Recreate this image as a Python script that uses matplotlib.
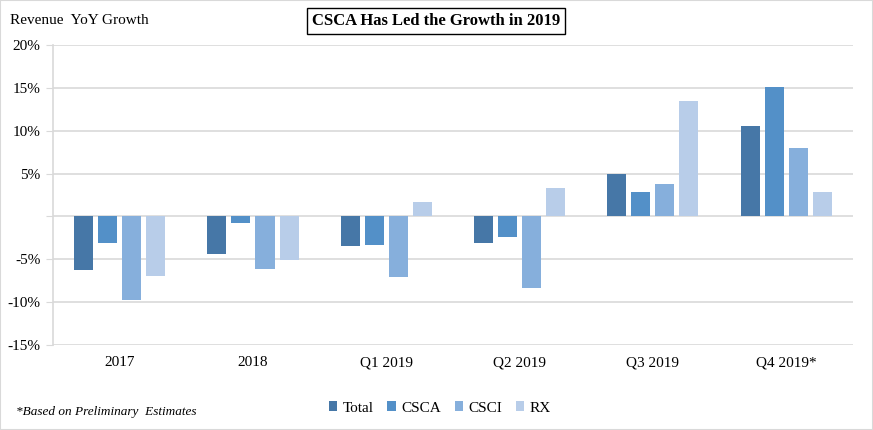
import numpy as np
import matplotlib.pyplot as plt
from matplotlib.patches import Rectangle

# data (YoY revenue growth, %)
periods = ['2017', '2018', 'Q1 2019', 'Q2 2019', 'Q3 2019', 'Q4 2019*']
series = ['Total', 'CSCA', 'CSCI', 'RX']
total = [-6.3, -4.4, -3.4, -3.1, 5.0, 10.5]
csca = [-3.1, -0.75, -3.3, -2.4, 2.8, 15.05]
csci = [-9.7, -6.1, -7.1, -8.4, 3.8, 8.0]
rx = [-6.9, -5.1, 1.7, 3.3, 13.5, 2.8]
yticks = [-15, -10, -5, 0, 5, 10, 15, 20]

colors = ['#4677a7', '#5390c8', '#86afdc', '#b8cde9']

plt.rcParams['font.family'] = ['Liberation Serif', 'DejaVu Serif']

fig = plt.figure(figsize=(8.73, 4.30), dpi=100)
ax = fig.add_axes([53 / 873, 85 / 430, 800 / 873, 300 / 430])

x = np.arange(len(periods))
step = 0.18
width = 0.1425
for i, (name, vals) in enumerate(zip(series, [total, csca, csci, rx])):
    ax.bar(x + (i - 1.5) * step, vals, width, color=colors[i], label=name, zorder=3)

ax.set_xlim(-0.5, len(periods) - 0.5)
ax.set_ylim(-15, 20)
ax.set_yticks(yticks)
ax.set_yticklabels(['' if t == 0 else f'{t}%' for t in yticks], fontsize=11)
ax.set_xticks(x)
ax.set_xticklabels(periods, fontsize=11)
ax.grid(axis='y', color='#d9d9d9', linewidth=1.2, zorder=0)
for s in ['top', 'right', 'bottom']:
    ax.spines[s].set_visible(False)
ax.spines['left'].set_color('#d9d9d9')
ax.spines['left'].set_linewidth(1.2)
ax.tick_params(axis='y', length=5, color='#d9d9d9', pad=4)
ax.tick_params(axis='x', length=0, pad=8)

fig.text(10 / 873, 1 - 20 / 430, 'Revenue  YoY Growth', fontsize=11, va='center', ha='left')
fig.text(436 / 873, 1 - 21 / 430, 'CSCA Has Led the Growth in 2019', fontsize=12,
         fontweight='bold', va='center', ha='center',
         bbox=dict(boxstyle='square,pad=0.3', fc='white', ec='black', lw=1))
fig.text(16 / 873, 1 - 412 / 430, '*Based on Preliminary  Estimates', fontsize=9.5,
         style='italic', va='center', ha='left')

fig.legend(loc='center', bbox_to_anchor=(440 / 873, 1 - 408 / 430), ncol=4, frameon=False,
           fontsize=11, handlelength=0.55, handleheight=0.55, handletextpad=0.35,
           columnspacing=0.9)

fig.patches.append(Rectangle((0, 0), 1, 1, transform=fig.transFigure, fill=False,
                             ec='#d9d9d9', lw=1.5))

fig.savefig('out.png', dpi=100)
